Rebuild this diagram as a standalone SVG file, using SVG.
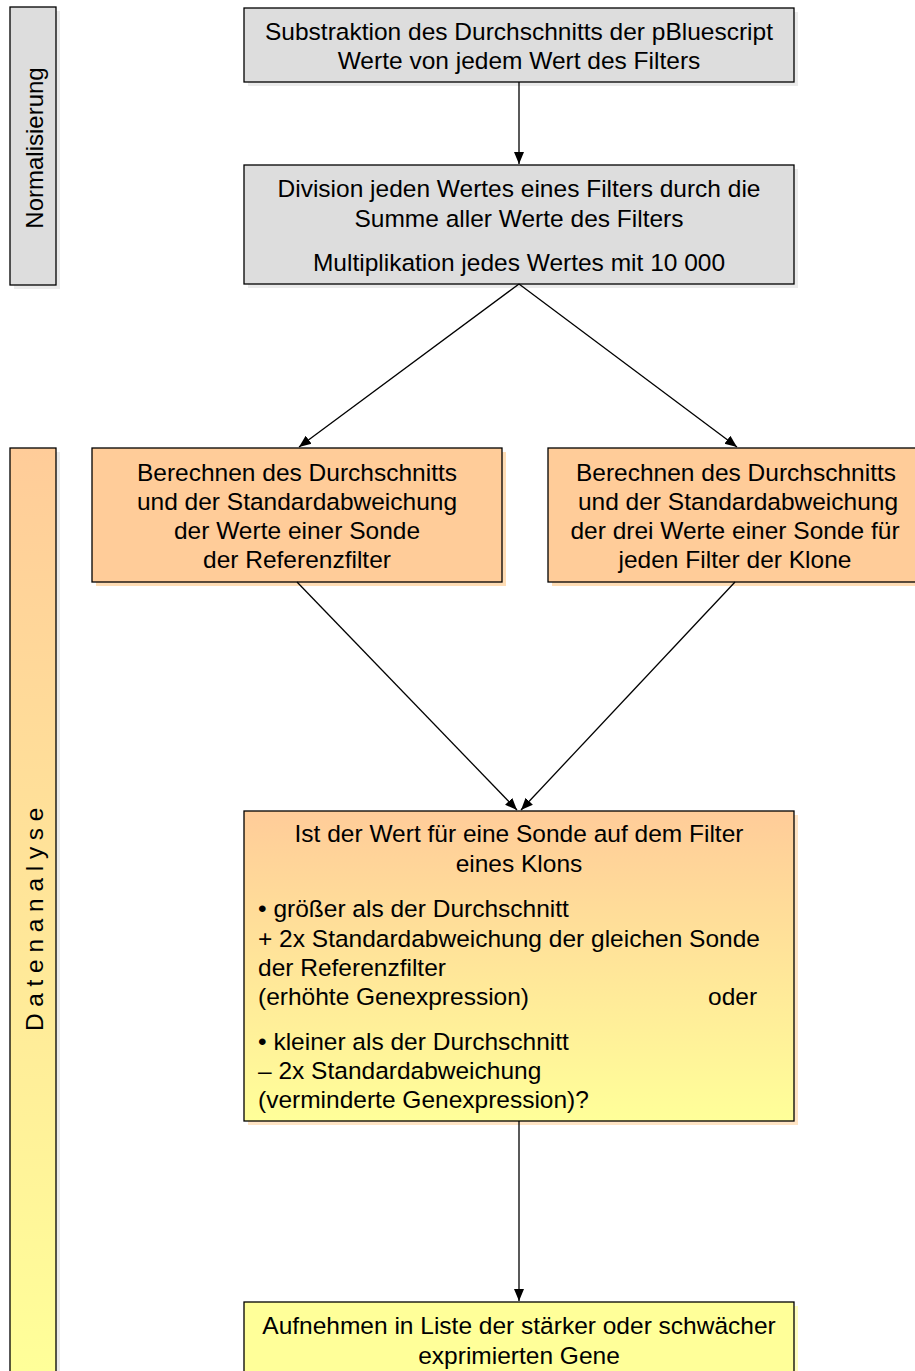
<svg xmlns="http://www.w3.org/2000/svg" width="915" height="1371" viewBox="0 0 915 1371">
<defs>
<linearGradient id="gBox5" x1="0" y1="0" x2="0" y2="1">
<stop offset="0" stop-color="#FFCC99"/>
<stop offset="1" stop-color="#FFFF99"/>
</linearGradient>
<linearGradient id="gSide" gradientUnits="userSpaceOnUse" x1="0" y1="448" x2="0" y2="1371">
<stop offset="0" stop-color="#FFCC99"/>
<stop offset="1" stop-color="#FFFF99"/>
</linearGradient>
<marker id="arr" viewBox="0 0 12 12" refX="12" refY="6" markerWidth="12" markerHeight="12" markerUnits="userSpaceOnUse" orient="auto">
<path d="M0,1 L12,6 L0,11 Z" fill="#000"/>
</marker>
</defs>
<style>
.c{text-anchor:middle}
.box{stroke:#000;stroke-width:1.3}
.gray{fill:#DDDDDD}
.orange{fill:#FFCC99}
.yellow{fill:#FFFF99}
.shg{fill:#EBEBEB}
.sho{fill:#FFDDB5}
.shy{fill:#FFFFC0}
.conn line{stroke:#000;stroke-width:1.3;marker-end:url(#arr)}
</style>
<rect width="915" height="1371" fill="#fff"/>
<g font-family="Liberation Sans, Arial, sans-serif" font-size="24.5" fill="#000">

<g id="lane-normalisierung">
<rect class="shg" x="14" y="11" width="46" height="278"/>
<rect class="box gray" x="10" y="7" width="46" height="278"/>
<text class="c" font-size="24" transform="translate(43,148) rotate(-90)">Normalisierung</text>
</g>

<g id="lane-datenanalyse">
<rect class="shg" x="14" y="452" width="46" height="930"/>
<rect class="box" fill="url(#gSide)" x="10" y="448" width="46" height="930"/>
<text class="c" letter-spacing="6.7" transform="translate(43,916) rotate(-90)">Datenanalyse</text>
</g>

<g id="n1">
<rect class="shg" x="248" y="12" width="550" height="74"/>
<rect class="box gray" x="244" y="8" width="550" height="74"/>
<text class="c" x="519" y="40">Substraktion des Durchschnitts der pBluescript</text>
<text class="c" x="519" y="69">Werte von jedem Wert des Filters</text>
</g>

<g id="n2">
<rect class="shg" x="248" y="169" width="550" height="119"/>
<rect class="box gray" x="244" y="165" width="550" height="119"/>
<text class="c" x="519" y="197">Division jeden Wertes eines Filters durch die</text>
<text class="c" x="519" y="227">Summe aller Werte des Filters</text>
<text class="c" x="519" y="271">Multiplikation jedes Wertes mit 10 000</text>
</g>

<g id="n3">
<rect class="sho" x="96" y="452" width="410" height="134"/>
<rect class="box orange" x="92" y="448" width="410" height="134"/>
<text class="c" x="297" y="481">Berechnen des Durchschnitts</text>
<text class="c" x="297" y="510">und der Standardabweichung</text>
<text class="c" x="297" y="539">der Werte einer Sonde</text>
<text class="c" x="297" y="568">der Referenzfilter</text>
</g>

<g id="n4">
<rect class="sho" x="552" y="452" width="380" height="134"/>
<rect class="box orange" x="548" y="448" width="380" height="134"/>
<text class="c" x="736" y="481">Berechnen des Durchschnitts</text>
<text class="c" x="738" y="510">und der Standardabweichung</text>
<text class="c" x="735" y="539">der drei Werte einer Sonde für</text>
<text class="c" x="735" y="568">jeden Filter der Klone</text>
</g>

<g id="n5">
<rect class="sho" x="248" y="815" width="550" height="310" opacity="0.8"/>
<rect class="box" fill="url(#gBox5)" x="244" y="811" width="550" height="310"/>
<text class="c" x="519" y="842">Ist der Wert für eine Sonde auf dem Filter</text>
<text class="c" x="519" y="872">eines Klons</text>
<text x="258" y="917">• größer als der Durchschnitt</text>
<text x="258" y="947">+ 2x Standardabweichung der gleichen Sonde</text>
<text x="258" y="976">der Referenzfilter</text>
<text x="258" y="1005">(erhöhte Genexpression)</text>
<text x="708" y="1005">oder</text>
<text x="258" y="1050">• kleiner als der Durchschnitt</text>
<text x="258" y="1079">– 2x Standardabweichung</text>
<text x="258" y="1108">(verminderte Genexpression)?</text>
</g>

<g id="n6">
<rect class="shy" x="248" y="1306" width="550" height="80"/>
<rect class="box yellow" x="244" y="1302" width="550" height="80"/>
<text class="c" x="519" y="1334">Aufnehmen in Liste der stärker oder schwächer</text>
<text class="c" x="519" y="1364">exprimierten Gene</text>
</g>
</g>

<g id="connectors" class="conn">
<line x1="519" y1="82" x2="519" y2="164"/>
<line x1="519" y1="284" x2="299" y2="447"/>
<line x1="519" y1="284" x2="737" y2="447"/>
<line x1="297" y1="582" x2="517" y2="810"/>
<line x1="735" y1="582" x2="521" y2="810"/>
<line x1="519" y1="1121" x2="519" y2="1301"/>
</g>
</svg>
